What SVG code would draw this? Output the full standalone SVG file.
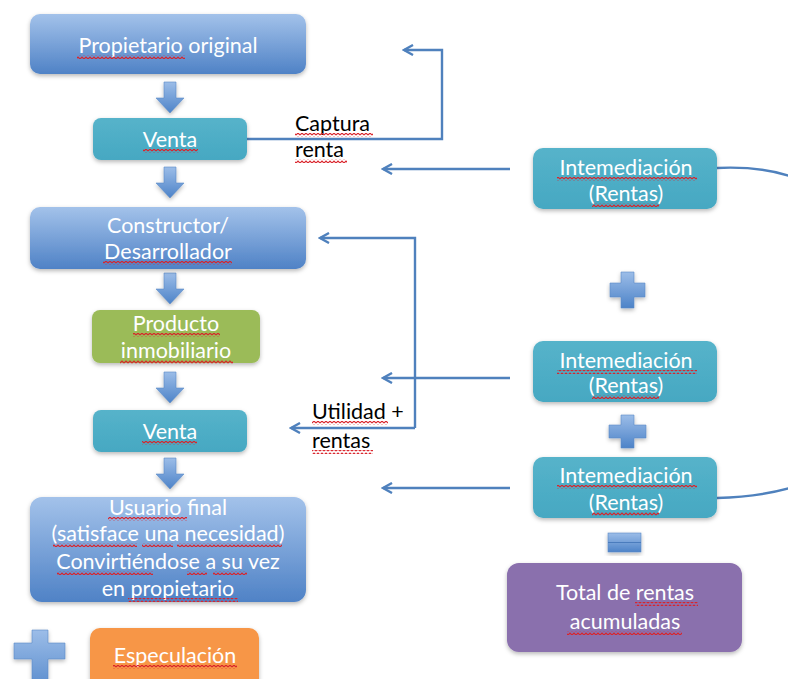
<svg xmlns="http://www.w3.org/2000/svg" width="788" height="679" viewBox="0 0 788 679">
<defs>
  <linearGradient id="gBlue" x1="0" y1="0" x2="0" y2="1">
    <stop offset="0" stop-color="#a3c2ea"/>
    <stop offset="1" stop-color="#4f82c6"/>
  </linearGradient>
  <linearGradient id="gTeal" x1="0" y1="0" x2="0" y2="1">
    <stop offset="0" stop-color="#56b3ca"/>
    <stop offset="1" stop-color="#46a8c2"/>
  </linearGradient>
  <linearGradient id="gSym" x1="0" y1="0" x2="0" y2="1">
    <stop offset="0" stop-color="#9cbde8"/>
    <stop offset="1" stop-color="#4d83c8"/>
  </linearGradient>
  <filter id="sh" x="-10%" y="-10%" width="120%" height="130%">
    <feDropShadow dx="0" dy="2" stdDeviation="2" flood-color="#000" flood-opacity="0.28"/>
  </filter>
  <pattern id="sq" width="4" height="4" patternUnits="userSpaceOnUse">
    <path d="M0,3 L2,1 L4,3" fill="none" stroke="#d9232a" stroke-width="1.1"/>
  </pattern>
  <marker id="ah" viewBox="0 0 12 12" refX="10" refY="6" markerWidth="12" markerHeight="12" markerUnits="userSpaceOnUse" orient="auto">
    <path d="M1,1 L10,6 L1,11" fill="none" stroke="#4f81bd" stroke-width="2.4"/>
  </marker>
  <path id="downArrow" d="M-6,0 H6 V16 H14 L0,31 L-14,16 H-6 Z"/>
</defs>
<style>
  .blue { fill: url(#gBlue); filter: url(#sh); }
  .teal { fill: url(#gTeal); filter: url(#sh); }
  .green { fill: #9bbb59; filter: url(#sh); }
  .orange { fill: #f79646; filter: url(#sh); }
  .purple { fill: #8a6fad; filter: url(#sh); }
  .sym { fill: url(#gSym); stroke: #5a89c6; stroke-width: 0.6; filter: url(#sh); }
  .t { font-family: Lato, "Liberation Sans", sans-serif; font-size: 21.5px; fill: #ffffff; text-anchor: middle; }
  .k { font-family: Lato, "Liberation Sans", sans-serif; font-size: 21.5px; fill: #000000; }
  .con { fill: none; stroke: #4f81bd; stroke-width: 2.4; }
  .sq { fill: url(#sq); }
</style>
<rect width="788" height="679" fill="#ffffff"/>

<g id="connectors">
  <path class="con" d="M247,139 H442 V50 H404" marker-end="url(#ah)"/>
  <path class="con" d="M510,169 H383" marker-end="url(#ah)"/>
  <path class="con" d="M415,428 V238 H320" marker-end="url(#ah)"/>
  <path class="con" d="M415,428 H291" marker-end="url(#ah)"/>
  <path class="con" d="M510,378 H383" marker-end="url(#ah)"/>
  <path class="con" d="M510,488 H383" marker-end="url(#ah)"/>
  <path class="con" d="M717,168 Q758,166 790,176"/>
  <path class="con" d="M717,498 Q758,497 790,488"/>
  <g id="arrows-down" class="sym">
    <use href="#downArrow" x="170" y="82"/>
    <use href="#downArrow" x="170" y="167"/>
    <use href="#downArrow" x="170" y="273"/>
    <use href="#downArrow" x="170" y="372"/>
    <use href="#downArrow" x="170" y="458"/>
  </g>
</g>

<g id="propietario-original">
  <rect class="blue" x="30" y="14" width="276" height="60" rx="10"/>
  <text class="t" x="168" y="53">Propietario original</text>
</g>
<g id="venta-1">
  <rect class="teal" x="93" y="118" width="154" height="42" rx="8"/>
  <text class="t" x="170" y="147">Venta</text>
</g>
<g id="captura-renta">
  <text class="k" x="295" y="131">Captura</text>
  <text class="k" x="295" y="157">renta</text>
</g>
<g id="constructor">
  <rect class="blue" x="30" y="207" width="276" height="62" rx="10"/>
  <text class="t" x="168" y="233">Constructor/</text>
  <text class="t" x="168" y="259">Desarrollador</text>
</g>
<g id="producto">
  <rect class="green" x="92" y="310" width="168" height="53" rx="8"/>
  <text class="t" x="176" y="331">Producto</text>
  <text class="t" x="176" y="358">inmobiliario</text>
</g>
<g id="venta-2">
  <rect class="teal" x="93" y="410" width="154" height="42" rx="8"/>
  <text class="t" x="170" y="439">Venta</text>
</g>
<g id="utilidad-rentas">
  <text class="k" x="312" y="419">Utilidad +</text>
  <text class="k" x="312" y="448">rentas</text>
</g>
<g id="usuario-final">
  <rect class="blue" x="30" y="497" width="276" height="105" rx="12"/>
  <text class="t" x="168" y="515">Usuario final</text>
  <text class="t" x="168" y="541">(satisface una necesidad)</text>
  <text class="t" x="168" y="569">Convirtiéndose a su vez</text>
  <text class="t" x="168" y="596">en propietario</text>
</g>
<g id="plus-especulacion">
  <path class="sym" d="M32,630 H48 V643 H65 V659 H48 V700 H32 V659 H14 V643 H32 Z"/>
</g>
<g id="especulacion">
  <rect class="orange" x="90" y="628" width="169" height="70" rx="10"/>
  <text class="t" x="175" y="663">Especulación</text>
</g>

<g id="intermediacion-1">
  <rect class="teal" x="533" y="148" width="184" height="61" rx="10"/>
  <text class="t" x="626" y="175">Intemediación</text>
  <text class="t" x="626" y="201">(Rentas)</text>
</g>
<g id="plus-1">
  <path class="sym" d="M621,272 H634 V283 H645 V297 H634 V308 H621 V297 H610 V283 H621 Z"/>
</g>
<g id="intermediacion-2">
  <rect class="teal" x="533" y="341" width="184" height="61" rx="10"/>
  <text class="t" x="626" y="368">Intemediación</text>
  <text class="t" x="626" y="393">(Rentas)</text>
</g>
<g id="plus-2">
  <path class="sym" d="M621,415 H634 V425 H646 V438 H634 V448 H621 V438 H609 V425 H621 Z"/>
</g>
<g id="intermediacion-3">
  <rect class="teal" x="533" y="457" width="184" height="61" rx="10"/>
  <text class="t" x="626" y="483">Intemediación</text>
  <text class="t" x="626" y="510">(Rentas)</text>
</g>
<g id="equals">
  <rect class="sym" x="608" y="533" width="33" height="19"/>
  <line x1="608" y1="542.5" x2="641" y2="542.5" stroke="#4a7cbd" stroke-width="1"/>
</g>
<g id="total-rentas">
  <rect class="purple" x="507" y="563" width="235" height="89" rx="12"/>
  <text class="t" x="625" y="600">Total de rentas</text>
  <text class="t" x="625" y="629">acumuladas</text>
</g>

<g id="spellcheck-marks" class="sq">
  <rect x="77" y="55" width="108" height="4"/>
  <rect x="143" y="149" width="55" height="4"/>
  <rect x="295" y="133" width="78" height="4"/>
  <rect x="295" y="159" width="52" height="4"/>
  <rect x="103" y="261" width="129" height="4"/>
  <rect x="133" y="333" width="87" height="4"/>
  <rect x="120" y="360" width="113" height="4"/>
  <rect x="142" y="441" width="55" height="4"/>
  <rect x="312" y="421" width="76" height="4"/>
  <rect x="312" y="450" width="61" height="4"/>
  <rect x="108" y="517" width="79" height="4"/>
  <rect x="53" y="543" width="84" height="4"/>
  <rect x="142" y="543" width="31" height="4"/>
  <rect x="177" y="543" width="105" height="4"/>
  <rect x="57" y="571" width="96" height="4"/>
  <rect x="187" y="571" width="20" height="4"/>
  <rect x="213" y="571" width="34" height="4"/>
  <rect x="128" y="598" width="110" height="4"/>
  <rect x="113" y="665" width="124" height="4"/>
  <rect x="557" y="177" width="140" height="4"/>
  <rect x="592" y="203" width="67" height="4"/>
  <rect x="557" y="370" width="140" height="4"/>
  <rect x="592" y="395" width="67" height="4"/>
  <rect x="557" y="485" width="140" height="4"/>
  <rect x="592" y="512" width="67" height="4"/>
  <rect x="635" y="602" width="63" height="4"/>
  <rect x="567" y="631" width="115" height="4"/>
</g>
</svg>
